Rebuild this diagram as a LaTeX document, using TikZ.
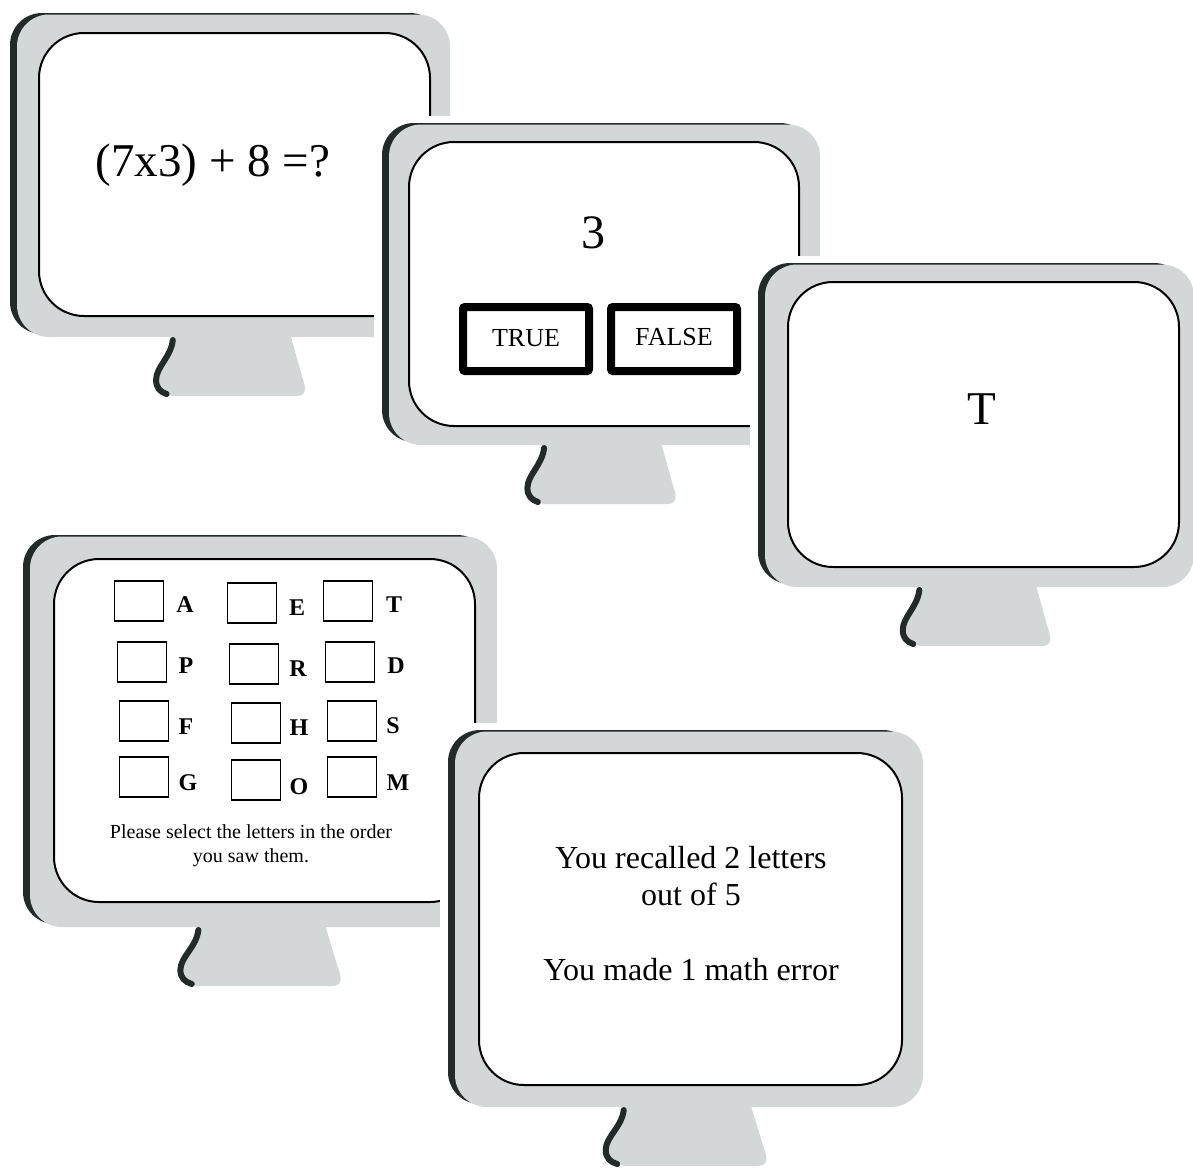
\documentclass[tikz,border=0pt]{standalone}
\usepackage{fontspec}
\setmainfont{Liberation Serif}
\definecolor{mongray}{HTML}{D4D7D8}
\definecolor{mondark}{HTML}{232A2A}
\tikzset{
  screenbox/.style={draw=black, line width=2pt, fill=white, rounded corners=45pt},
  btn/.style={draw=black, line width=8pt, rounded corners=2pt, minimum width=126pt, minimum height=64pt, inner sep=0pt, font=\fontsize{26}{30}\selectfont},
  lbox/.style={draw=black, line width=1.6pt, minimum width=49pt, minimum height=40pt, inner sep=0pt},
  letter/.style={font=\fontsize{24}{28}\selectfont\bfseries, inner sep=0pt},
}
\newcommand\monitorshape[8]{%
  \pgfmathsetmacro\mW{#3-#1}%
  \fill[white] ({#1-8},{#2-7}) rectangle ({#3+5},{#4+66});
  \fill[mondark, rounded corners=32pt] (#1,#2) rectangle ({#3-8},{#4-3});
  \fill[mongray, rounded corners=32pt] ({#1+7},{#2+1.5}) rectangle (#3,#4);
  \fill[mongray] ({#1+0.368*\mW},{#4-6}) -- ({#1+0.6386*\mW},{#4-6})
     -- ({#1+0.6386*\mW},#4) -- ({#1+0.664*\mW},{#4+40})
     .. controls ({#1+0.674*\mW},{#4+52}) and ({#1+0.674*\mW},{#4+59}) .. ({#1+0.65*\mW},{#4+59})
     -- ({#1+0.37*\mW},{#4+59})
     .. controls ({#1+0.345*\mW},{#4+56}) and ({#1+0.332*\mW},{#4+52}) .. ({#1+0.332*\mW},{#4+43})
     .. controls ({#1+0.332*\mW},{#4+30}) and ({#1+0.365*\mW},{#4+20}) .. ({#1+0.368*\mW},{#4}) -- cycle;
  \draw[mondark, line width=6pt, line cap=round]
     ({#1+0.37*\mW},{#4+3})
     .. controls ({#1+0.366*\mW},{#4+20}) and ({#1+0.332*\mW},{#4+30}) .. ({#1+0.332*\mW},{#4+43})
     .. controls ({#1+0.332*\mW},{#4+51}) and ({#1+0.342*\mW},{#4+55}) .. ({#1+0.356*\mW},{#4+57});
  \draw[screenbox] (#5,#6) rectangle (#7,#8);
}
\begin{document}
\begin{tikzpicture}[x=1pt,y=-1pt]
\useasboundingbox[fill=white] (0,0) rectangle (1193,1173);

% Monitor 1
\monitorshape{10}{13}{450}{337}{39}{33}{430}{316}
\node[font=\fontsize{47}{52}\selectfont, inner sep=0pt] (q1) at (213,165) {(7x3) + 8 =?};

% Monitor 2
\monitorshape{382}{123}{820}{445}{409}{142}{799}{426}
\node[font=\fontsize{48}{54}\selectfont, inner sep=0pt] (n3) at (593,233) {3};
\node[btn] (btrue) at (526,339) {\raisebox{3pt}{TRUE}};
\node[btn] (bfalse) at (674,339) {\raisebox{5pt}{FALSE}};

% Monitor 3
\monitorshape{758}{263}{1194}{587}{788}{282}{1179}{567}
\node[font=\fontsize{47}{52}\selectfont, inner sep=0pt] (t) at (982,409) {T};

% Monitor 4
\monitorshape{23}{535}{497}{927}{54}{559}{475}{902}
\node[lbox] (b11) at (139,601) {};
\node[letter] (lA) at (185,605) {A};
\node[lbox] (b12) at (252,603) {};
\node[letter] (lE) at (297,608) {E};
\node[lbox] (b13) at (348,601) {};
\node[letter] (lT) at (394,605) {T};
\node[lbox] (b21) at (142,662) {};
\node[letter] (lP) at (186,666) {P};
\node[lbox] (b22) at (254,664) {};
\node[letter] (lR) at (298,669) {R};
\node[lbox] (b23) at (350,662) {};
\node[letter] (lD) at (396,666) {D};
\node[lbox] (b31) at (144,721) {};
\node[letter] (lF) at (186,727) {F};
\node[lbox] (b32) at (256,723) {};
\node[letter] (lH) at (299,728) {H};
\node[lbox] (b33) at (352,721) {};
\node[letter] (lS) at (393,726) {S};
\node[lbox] (b41) at (144,777) {};
\node[letter] (lG) at (188,783) {G};
\node[lbox] (b42) at (256,780) {};
\node[letter] (lO) at (299,787) {O};
\node[lbox] (b43) at (352,777) {};
\node[letter] (lM) at (398,783) {M};
\node[font=\fontsize{20}{24}\selectfont, align=center, inner sep=0pt] (instr) at (251,846)
  {Please select the letters in the order\\you saw them.};

% Monitor 5
\monitorshape{448}{730}{923}{1107}{479}{753}{902}{1085}
\node[font=\fontsize{32}{37}\selectfont, align=center, inner sep=0pt] (res) at (691,914)
  {You recalled 2 letters\\out of 5\\[38pt]You made 1 math error};
\end{tikzpicture}
\end{document}
